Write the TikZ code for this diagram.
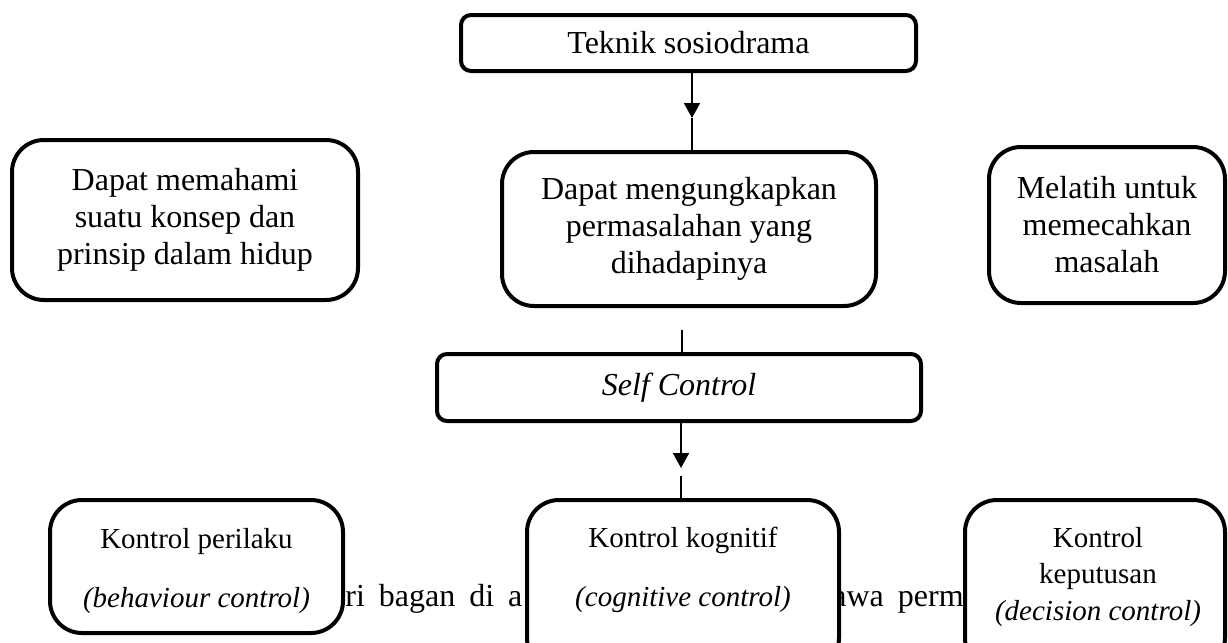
\documentclass[tikz,border=0pt]{standalone}
\usepackage{fontspec}
\setmainfont{Liberation Serif}
\usetikzlibrary{arrows.meta}
\begin{document}
\begin{tikzpicture}[x=0.5pt, y=-0.5pt,
        box/.style={draw, line width=2pt, fill=white, rounded corners=16pt, inner sep=0pt, align=center, font=\fontsize{16}{18.5}\selectfont},
        flatbox/.style={box, rounded corners=5pt},
        lbl/.style={inner sep=0pt, align=center, font=\fontsize{14.5}{18.25}\selectfont},
        bodytext/.style={inner sep=0pt, anchor=base west, font=\fontsize{16}{18.5}\selectfont},
        pointer/.style={-{Triangle[length=7.5pt, width=8pt]}, line width=1pt},
        link/.style={line width=0.6pt}]
            \useasboundingbox (0,0) rectangle (1228,643);
            \node[bodytext] (body1) at (345,606) {\spaceskip=7pt\relax ri bagan di a};
            \node[bodytext] (body2) at (832,606) {\spaceskip=7pt\relax awa perm};
            \node[flatbox, minimum width=227.5pt, minimum height=28pt] (teknik) at (688.5,43) {Teknik sosiodrama};
            \node[box, minimum width=173pt, minimum height=80pt] (konsep) at (185,220) {Dapat memahami\\suatu konsep dan\\prinsip dalam hidup};
            \node[box, minimum width=187pt, minimum height=77pt] (ungkap) at (689,229) {Dapat mengungkapkan\\permasalahan yang\\dihadapinya};
            \node[box, minimum width=118pt, minimum height=78pt] (latih) at (1107,225) {Melatih untuk\\memecahkan\\masalah};
            \node[flatbox, minimum width=242pt, minimum height=33.5pt] (selfc) at (679,387.5) {\itshape Self Control};
            \node[box, minimum width=146.5pt, minimum height=66.5pt] (perilaku) at (196.5,566.5) {};
            \node[box, minimum width=156pt, minimum height=85pt] (kognitif) at (683,585) {};
            \node[box, minimum width=130pt, minimum height=85pt] (keputusan) at (1095,585) {};
            \node[lbl] (perilakutxt) at (196.5,571) {Kontrol perilaku\\[11.25pt]\itshape (behaviour control)};
            \node[lbl] (kognitiftxt) at (683,570) {Kontrol kognitif\\[11.25pt]\itshape (cognitive control)};
            \node[lbl] (keputusantxt) at (1098,577) {Kontrol\\keputusan\\\itshape (decision control)};
            \coordinate (a1) at (692,118);
            \coordinate (a2) at (682,330);
            \coordinate (a3) at (681,468);
            \coordinate (a4) at (681,476);
            \draw[pointer] (a1 |- teknik.south) -- (a1);
            \draw[link] (a1) -- (a1 |- ungkap.north);
            \draw[link] (a2) -- (a2 |- selfc.north);
            \draw[pointer] (a3 |- selfc.south) -- (a3);
            \draw[link] (a4) -- (a4 |- kognitif.north);
\end{tikzpicture}
\end{document}
